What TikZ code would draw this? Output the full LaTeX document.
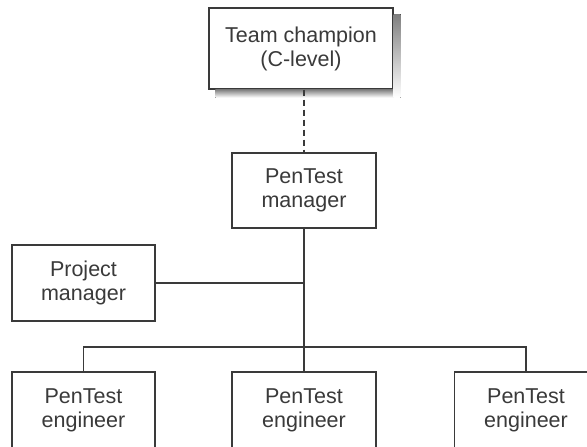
\documentclass[tikz,border=0pt]{standalone}
\usepackage{fontspec}
\setmainfont{Liberation Sans}
\definecolor{ink}{HTML}{3A3A3A}
\definecolor{shade}{HTML}{9C9C9C}
\tikzset{
  box/.style={draw=ink, line width=1.1pt, fill=white, text=ink, align=center,
    inner sep=0pt, font=\fontsize{21.5}{24}\selectfont},
  conn/.style={draw=ink, line width=1.1pt},
}
\begin{document}
\begin{tikzpicture}[x=1pt,y=-1pt]
\useasboundingbox (0,0) rectangle (587,447);
\clip (0,0) rectangle (587,447);
\node[box, minimum width=184pt, minimum height=81pt] (top) at (301,48.5) {Team champion\\(C-level)};
\fill[shade] ([shift={(7,0)}]top.south west) rectangle ([shift={(7,8)}]top.south east);
\fill[shade] ([shift={(0,7)}]top.north east) rectangle ([shift={(7,8)}]top.south east);
\node[box, minimum width=144pt, minimum height=75pt] (mgr) at (304,190.5) {PenTest\\manager};
\node[box, minimum width=143pt, minimum height=76pt] (pm) at (83.5,283) {Project\\manager};
\node[box, minimum width=143pt, minimum height=76pt] (e1) at (83.5,410) {PenTest\\engineer};
\node[box, minimum width=144pt, minimum height=76pt] (e2) at (304,410) {PenTest\\engineer};
\node[box, minimum width=143pt, minimum height=76pt] (e3) at (526,410) {PenTest\\engineer};
\coordinate (bus) at (304,347);
\draw[conn, dash pattern=on 6pt off 4pt] (mgr.north |- top.south) -- (mgr.north);
\draw[conn] (mgr.south) -- (e2.north);
\draw[conn] (pm.east) -- (pm.east -| mgr.south);
\draw[conn] (e1.north) |- (bus) -| (e3.north);
\end{tikzpicture}
\end{document}
